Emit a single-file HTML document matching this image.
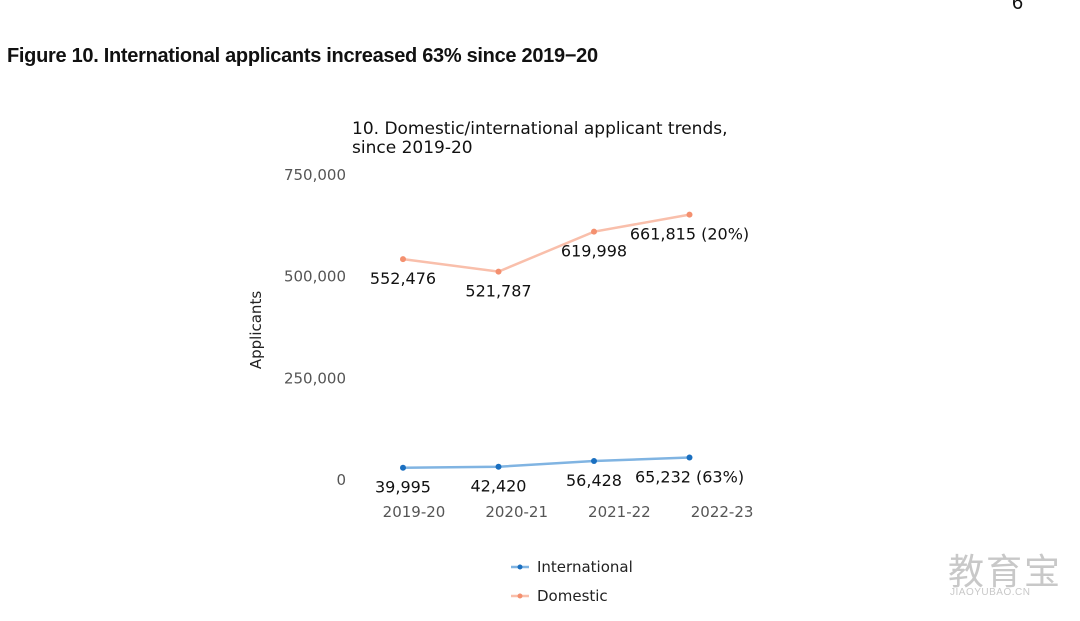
<!DOCTYPE html>
<html><head><meta charset="utf-8"><style>
body{margin:0;width:1080px;height:621px;background:#fff;overflow:hidden;position:relative;font-family:"Liberation Sans","DejaVu Sans",sans-serif}
#title{position:absolute;left:7px;top:45px;font-size:20px;font-weight:bold;color:#111;letter-spacing:-0.3px}
#pg{position:absolute;left:1012px;top:-8px;font-size:20px;color:#111}
#wm{position:absolute;left:948px;top:543px;color:#c8c8c8;font-size:36px;font-family:"Noto Sans CJK SC",sans-serif;letter-spacing:2px}
#wm2{position:absolute;left:950px;top:587px;color:#c8c8c8;font-size:10px;letter-spacing:0.5px}
svg{position:absolute;left:0;top:0}
</style></head><body>
<div id="title">Figure 10. International applicants increased 63% since 2019−20</div>
<div id="pg">6</div>
<div id="wm">教育宝</div>
<div id="wm2">JIAOYUBAO.CN</div>
<svg id="chart" width="1080" height="621" font-family="DejaVu Sans, Liberation Sans, sans-serif">
<text x="352" y="134" font-size="17" fill="#111">10. Domestic/international applicant trends,</text>
<text x="352" y="153" font-size="17" fill="#111">since 2019-20</text>
<text transform="translate(261,330) rotate(-90)" text-anchor="middle" font-size="15" fill="#222">Applicants</text>
<g id="g"></g>
</svg>
<script>
const categories=["2019-20","2020-21","2021-22","2022-23"];
const international=[39995,42420,56428,65232];
const domestic=[552476,521787,619998,661815];
const intlLabels=["39,995","42,420","56,428","65,232 (63%)"];
const domLabels=["552,476","521,787","619,998","661,815 (20%)"];
const yTicks=[0,250000,500000,750000];
const yTickLabels=["0","250,000","500,000","750,000"];
const NS="http://www.w3.org/2000/svg";
const g=document.getElementById('g');
const x=i=>403+i*95.5;
const xl=i=>414+i*102.7;
const y=v=>484-v*0.000407;
function mk(t,a,txt){const e=document.createElementNS(NS,t);for(const k in a)e.setAttribute(k,a[k]);if(txt!=null)e.textContent=txt;g.appendChild(e);return e;}
yTicks.forEach((v,i)=>{const e=mk('text',{x:346,y:y(v)+1,'text-anchor':'end','font-size':15,fill:'#555'},yTickLabels[i]);

});
categories.forEach((c,i)=>{const e=mk('text',{x:xl(i),y:517,'text-anchor':'middle','font-size':15,fill:'#555'},c);

});
function series(vals,labels,line,dot,name){
const p=mk('polyline',{points:vals.map((v,i)=>x(i)+','+y(v)).join(' '),fill:'none',stroke:line,'stroke-width':2.5});


vals.forEach((v,i)=>{const c=mk('circle',{cx:x(i),cy:y(v),r:3,fill:dot});


const t=mk('text',{x:x(i),y:y(v)+25,'text-anchor':'middle','font-size':16,fill:'#111'},labels[i]);

});}
series(domestic,domLabels,'#f9bfab','#f4906f','domestic');
series(international,intlLabels,'#80b4e2','#1a6fc0','international');
[['International','#80b4e2','#1a6fc0',567],['Domestic','#f9bfab','#f4906f',596]].forEach(l=>{
const a=mk('line',{x1:511,x2:529,y1:l[3],y2:l[3],stroke:l[1],'stroke-width':2.5});


const b=mk('circle',{cx:520,cy:l[3],r:2.5,fill:l[2]});


const t=mk('text',{x:537,y:l[3]+5,'font-size':15,fill:'#222'},l[0]);

});
</script>
</body></html>
